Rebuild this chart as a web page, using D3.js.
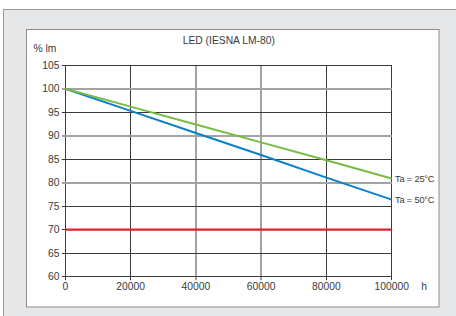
<!DOCTYPE html>
<html>
<head>
<meta charset="utf-8">
<script src="https://cdn.jsdelivr.net/npm/d3@7"></script>
<style>
  html, body { margin: 0; padding: 0; background: #fff; }
  svg { display: block; font-family: "Liberation Sans", Arial, sans-serif; }
</style>
</head>
<body>
<svg id="chart" width="456" height="316"></svg>
<script>
// ---- data ----
const hours = [0, 20000, 40000, 60000, 80000, 100000];
const ta25 = [100, 96.2, 92.4, 88.6, 84.8, 80.9];
const ta50 = [100, 95.3, 90.6, 85.9, 81.1, 76.4];
const limitValue = 70;
const xTicks = [0, 20000, 40000, 60000, 80000, 100000];
const yTicks = [60, 65, 70, 75, 80, 85, 90, 95, 100, 105];
const softX = [40000, 60000];
const softY = [80, 90, 100];
const title = "LED (IESNA LM-80)";
const yLabel = "% lm";
const xLabel = "h";
const seriesNames = ["Ta = 25°C", "Ta = 50°C"];

const svg = d3.select("#chart");

// frames
svg.append("rect").attr("x", 3.5).attr("y", 9.5).attr("width", 460).attr("height", 320)
  .attr("fill", "#e6e7e8").attr("stroke", "#9a9a9a");
svg.append("rect").attr("x", 26.5).attr("y", 29.5).attr("width", 412.5).attr("height", 277.5)
  .attr("fill", "#fff").attr("stroke", "#8c8c8c");

const x = d3.scaleLinear().domain([0, 100000]).range([65.3, 391.7]);
const y = d3.scaleLinear().domain([60, 105]).range([276.7, 65.3]);

const g = svg.append("g");

// grid
xTicks.forEach(v => {
  const soft = softX.includes(v);
  const px = soft ? Math.round(x(v)) : Math.floor(x(v)) + 0.5;
  g.append("line").attr("x1", px).attr("x2", px)
    .attr("y1", y(105) - 0.2).attr("y2", y(60) + 3.5)
    .attr("stroke", soft ? "#a3a3a3" : "#3a3a3a").attr("stroke-width", soft ? 2 : 1);
});
yTicks.forEach(v => {
  const soft = softY.includes(v);
  const py = soft ? Math.round(y(v)) : Math.floor(y(v)) + 0.5;
  g.append("line").attr("y1", py).attr("y2", py)
    .attr("x1", x(0) - 3.5).attr("x2", x(100000) + 0.2)
    .attr("stroke", soft ? "#a3a3a3" : "#3a3a3a").attr("stroke-width", soft ? 2 : 1);
});

// red limit line
g.append("line").attr("x1", x(0)).attr("x2", x(100000))
  .attr("y1", y(limitValue)).attr("y2", y(limitValue))
  .attr("stroke", "#e3202a").attr("stroke-width", 2.2);

// series lines
const line = d3.line().x((d, i) => x(hours[i])).y(d => y(d));
g.append("path").datum(ta50).attr("d", line).attr("fill", "none")
  .attr("stroke", "#0a80c6").attr("stroke-width", 2);
g.append("path").datum(ta25).attr("d", line).attr("fill", "none")
  .attr("stroke", "#76bd43").attr("stroke-width", 2);

// tick labels
const txtColor = "#3a3a3a";
yTicks.forEach(v => {
  g.append("text").attr("x", 59.5).attr("y", y(v)).attr("dy", "0.35em")
    .attr("text-anchor", "end").attr("font-size", 10.3).attr("fill", txtColor).text(v);
});
xTicks.forEach(v => {
  g.append("text").attr("x", x(v)).attr("y", 290)
    .attr("text-anchor", "middle").attr("font-size", 10.3).attr("fill", txtColor).text(v);
});

// axis labels & title
svg.append("text").attr("x", 33.5).attr("y", 52).attr("font-size", 10.3).attr("fill", txtColor).text(yLabel);
svg.append("text").attr("x", 424).attr("y", 290).attr("text-anchor", "middle")
  .attr("font-size", 10.3).attr("fill", txtColor).text(xLabel);
svg.append("text").attr("x", 228.8).attr("y", 44).attr("text-anchor", "middle")
  .attr("font-size", 10.3).attr("fill", txtColor).text(title);

// series labels
[ta25, ta50].forEach((s, i) => {
  svg.append("text").attr("x", 395).attr("y", y(s[s.length - 1])).attr("dy", "0.35em")
    .attr("font-size", 9.3).attr("letter-spacing", -0.2).attr("fill", txtColor).text(seriesNames[i]);
});
</script>
</body>
</html>
